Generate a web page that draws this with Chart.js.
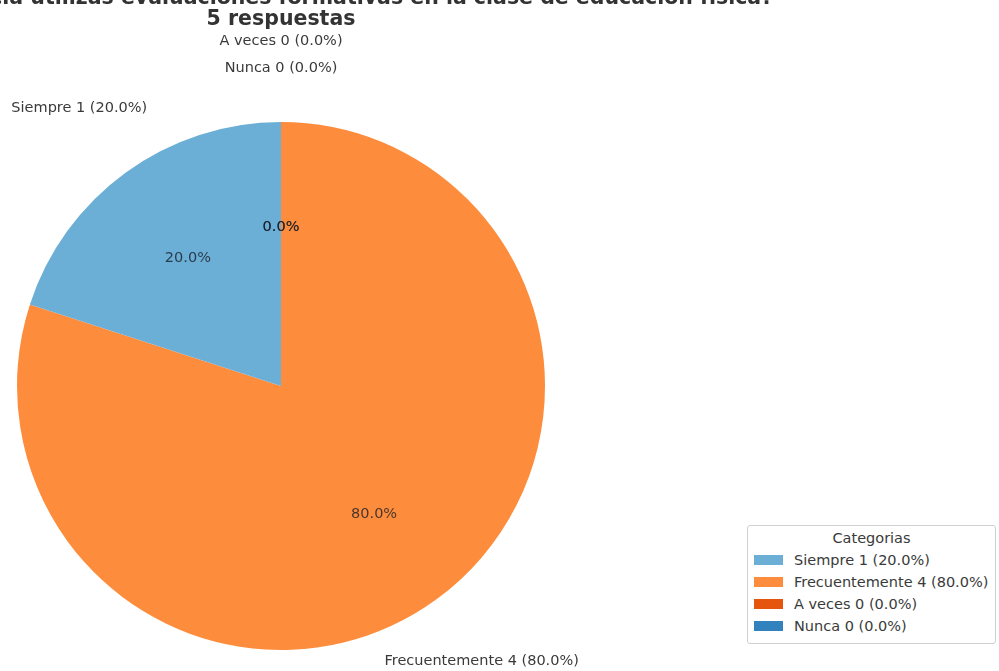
<!DOCTYPE html>
<html>
<head>
<meta charset="utf-8">
<script src="https://cdn.jsdelivr.net/npm/chart.js@4.4.0/dist/chart.umd.min.js"></script>
<style>
  html, body { margin: 0; padding: 0; background: #fff; }
  #wrap { position: relative; width: 999px; height: 671px; overflow: hidden; }
  #leyenda {
    position: absolute; left: 747px; top: 525px; width: 249px;
    border: 1px solid #d0d0d0; border-radius: 3px; background: #fff;
    font-family: "DejaVu Sans", sans-serif; font-size: 14.5px; color: #3a3a3a;
    box-sizing: border-box; padding: 4px 0 6px 6px;
  }
  #leyenda .tit { text-align: center; margin-bottom: 3px; padding-right: 6px; }
  #leyenda .fila { display: flex; align-items: center; height: 22px; white-space: nowrap; }
  #leyenda .caja { width: 29px; height: 10px; margin-right: 11px; flex: none; }
</style>
</head>
<body>
<div id="wrap">
  <canvas id="pieChart" width="999" height="671"></canvas>
  <div id="leyenda"></div>
</div>
<script>
// Respuestas de la encuesta
const categorias = ["Siempre", "Frecuentemente", "A veces", "Nunca"];
const respuestas = [1, 4, 0, 0];
const colores = ["#6baed6", "#fd8d3c", "#e6550d", "#3182bd"];
const tituloLineas = [
  "¿Con qué frecuencia utilizas evaluaciones formativas en la clase de educación física?",
  "5 respuestas"
];

const total = respuestas.reduce((a, b) => a + b, 0);
const pct = v => (v / total * 100).toFixed(1) + "%";
const etiquetas = categorias.map((c, i) => c + " " + respuestas[i] + " (" + pct(respuestas[i]) + ")");

// Chart.js dibuja en sentido horario, así que invertimos el orden
// para que "Siempre" quede a la izquierda de las 12 en punto
const orden = categorias.map((_, i) => i).reverse();

// ajustes de las etiquetas exteriores para que no se encimen
const empujes = {
  "Siempre": [-31, -43],
  "Frecuentemente": [30, 40],
  "A veces": [0, -54],
  "Nunca": [0, -27]
};

const etiquetasPie = {
  id: "etiquetasPie",
  afterDatasetsDraw(chart) {
    const ctx = chart.ctx;
    const arcos = chart.getDatasetMeta(0).data;
    const cx = arcos[0].x;

    ctx.save();
    ctx.textAlign = "center";
    ctx.textBaseline = "middle";

    // porcentaje dentro de cada rebanada
    ctx.font = "14.5px 'DejaVu Sans'";
    ctx.fillStyle = "rgba(25,30,40,0.8)";
    arcos.forEach((arco, j) => {
      const i = orden[j];
      const a = (arco.startAngle + arco.endAngle) / 2;
      const r = arco.outerRadius * 0.6;
      ctx.fillText(pct(respuestas[i]), arco.x + Math.cos(a) * r, arco.y + Math.sin(a) * r);
    });

    // nombre, cantidad y porcentaje fuera de la rebanada
    ctx.fillStyle = "#3a3a3a";
    arcos.forEach((arco, j) => {
      const i = orden[j];
      const a = (arco.startAngle + arco.endAngle) / 2;
      const r = arco.outerRadius * 1.1;
      const e = empujes[categorias[i]];
      ctx.fillText(etiquetas[i], arco.x + Math.cos(a) * r + e[0], arco.y + Math.sin(a) * r + e[1]);
    });

    // título
    ctx.font = "bold 20.5px 'DejaVu Sans'";
    ctx.fillStyle = "#333";
    ctx.textBaseline = "alphabetic";
    ctx.fillText(tituloLineas[0], cx, 4);
    ctx.fillText(tituloLineas[1], cx, 25);
    ctx.restore();
  }
};

const grafica = new Chart(document.getElementById("pieChart"), {
  type: "pie",
  data: {
    labels: orden.map(i => etiquetas[i]),
    datasets: [{
      data: orden.map(i => respuestas[i]),
      backgroundColor: orden.map(i => colores[i]),
      borderWidth: 0,
      hoverOffset: 0
    }]
  },
  options: {
    responsive: false,
    animation: false,
    layout: { padding: { left: 17, top: 122, right: 454, bottom: 21 } },
    plugins: {
      legend: { display: false },
      tooltip: { enabled: false }
    }
  },
  plugins: [etiquetasPie]
});

// leyenda en HTML con el orden original
const leyenda = document.getElementById("leyenda");
leyenda.innerHTML = '<div class="tit">Categorias</div>' + categorias.map((c, i) =>
  '<div class="fila"><span class="caja" style="background:' + colores[i] + '"></span>' + etiquetas[i] + '</div>'
).join("");
</script>
</body>
</html>
